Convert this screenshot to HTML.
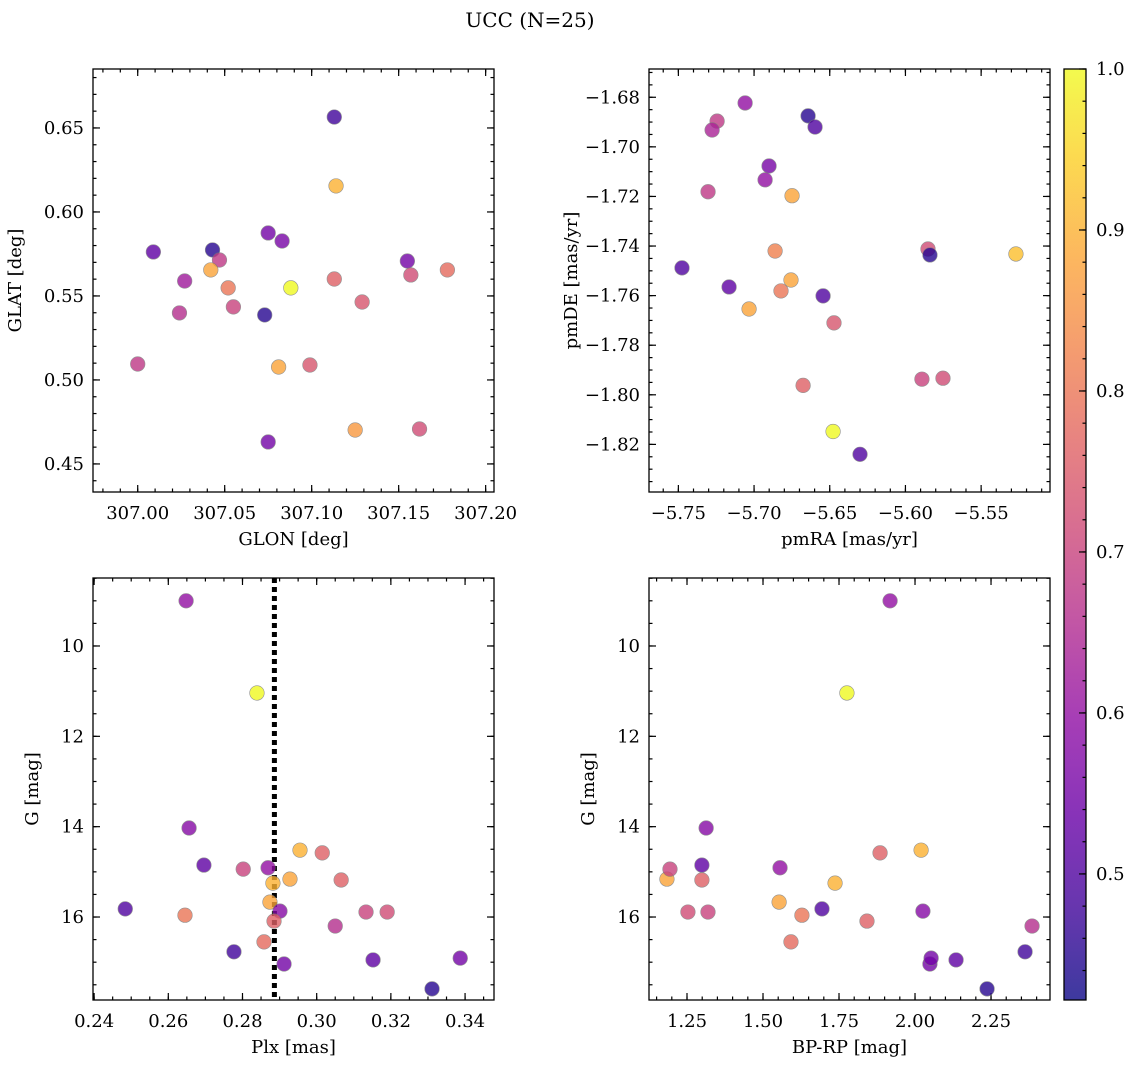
<!DOCTYPE html>
<html><head><meta charset="utf-8"><style>
body{margin:0;background:#fff}
svg text{font-family:"DejaVu Serif","Liberation Serif",serif;fill:#000}
</style></head><body>
<svg id="fig" width="1136" height="1068" xmlns="http://www.w3.org/2000/svg">
<defs><linearGradient id="cbg" x1="0" y1="1" x2="0" y2="0"></linearGradient></defs>
<text x="530" y="27" font-size="20" text-anchor="middle">UCC (N=25)</text>
</svg>
<script>
const probRange=[0.4217,1.0];
// panel 1: GLON, GLAT, prob
const p1x=[307.113,307.114,307.009,307.043,307.075,307.083,307.155,307.027,307.047,307.042,307.052,307.088,307.113,307.178,307.157,307.129,307.055,307.024,307.073,307.000,307.081,307.099,307.075,307.125,307.162];
const p1y=[0.6565,0.6155,0.5762,0.5774,0.5875,0.5827,0.5708,0.5589,0.5714,0.5655,0.5548,0.5548,0.5601,0.5655,0.5625,0.5464,0.5435,0.5399,0.5387,0.5095,0.5077,0.5089,0.4631,0.4702,0.4708];
const p1c=[0.48,0.9,0.52,0.45,0.55,0.56,0.55,0.62,0.68,0.88,0.8,1.0,0.76,0.78,0.72,0.74,0.7,0.66,0.45,0.68,0.88,0.74,0.55,0.86,0.72];
// panel 2: pmRA, pmDE, prob
const p2x=[-5.7059,-5.7244,-5.7277,-5.6643,-5.6597,-5.6901,-5.6927,-5.7304,-5.6749,-5.7476,-5.7165,-5.6861,-5.6756,-5.6822,-5.7033,-5.6544,-5.6472,-5.5851,-5.5838,-5.5270,-5.5891,-5.5752,-5.6676,-5.6478,-5.6300];
const p2y=[-1.6823,-1.6896,-1.6932,-1.6875,-1.6920,-1.7077,-1.7133,-1.7181,-1.7197,-1.7488,-1.7565,-1.7420,-1.7537,-1.7581,-1.7654,-1.7601,-1.7710,-1.7412,-1.7436,-1.7432,-1.7937,-1.7933,-1.7962,-1.8148,-1.8240];
const p2c=[0.6,0.68,0.64,0.45,0.5,0.56,0.6,0.68,0.88,0.5,0.52,0.82,0.88,0.8,0.88,0.5,0.74,0.72,0.45,0.92,0.7,0.72,0.76,1.0,0.5];
// panel 3: Plx, G, prob
const p3x=[0.2648,0.2839,0.2656,0.2696,0.2802,0.2869,0.2955,0.3015,0.2882,0.2928,0.3066,0.2484,0.2645,0.2874,0.2901,0.3133,0.3190,0.2885,0.3050,0.2858,0.2777,0.2912,0.3152,0.3387,0.3311];
const p3y=[9.00,11.04,14.03,14.85,14.94,14.91,14.52,14.58,15.25,15.16,15.18,15.82,15.96,15.67,15.87,15.89,15.89,16.09,16.20,16.55,16.77,17.04,16.95,16.91,17.59];
const p3c=[0.6,1.0,0.58,0.52,0.7,0.6,0.9,0.76,0.9,0.88,0.76,0.5,0.8,0.88,0.58,0.7,0.72,0.76,0.66,0.78,0.48,0.55,0.52,0.55,0.45];
const plxLine=0.2886;
// panel 4: BP-RP, G, prob
const p4x=[1.918,1.776,1.313,1.299,1.556,1.885,2.020,1.184,1.299,1.737,1.694,1.553,1.628,1.253,1.319,2.026,1.842,2.385,1.592,2.362,2.135,2.049,2.053,2.237,1.194];
const p4y=[9.00,11.04,14.03,14.85,14.91,14.58,14.52,15.16,15.18,15.25,15.82,15.67,15.96,15.89,15.89,15.87,16.09,16.20,16.55,16.77,16.95,17.04,16.91,17.59,14.94];
const p4c=[0.6,1.0,0.58,0.52,0.6,0.76,0.9,0.88,0.76,0.9,0.5,0.88,0.8,0.72,0.7,0.58,0.76,0.66,0.78,0.48,0.52,0.55,0.55,0.45,0.7];
const t1x=["307.00","307.05","307.10","307.15","307.20"], t1y=["0.45","0.50","0.55","0.60","0.65"];
const t2x=["−5.75","−5.70","−5.65","−5.60","−5.55"], t2y=["−1.82","−1.80","−1.78","−1.76","−1.74","−1.72","−1.70","−1.68"];
const t3x=["0.24","0.26","0.28","0.30","0.32","0.34"], tGy=["10","12","14","16"];
const t4x=["1.25","1.50","1.75","2.00","2.25"], tcb=["0.5","0.6","0.7","0.8","0.9","1.0"];

const NS="http://www.w3.org/2000/svg", svg=document.getElementById('fig');
function mk(tag,at,parent){const e=document.createElementNS(NS,tag);for(const k in at)e.setAttribute(k,at[k]);(parent||svg).appendChild(e);return e;}
const P=[[0.00,13,8,135],[0.1,65,4,154],[0.2,106,0,167],[0.3,143,13,164],[0.4,177,42,144],[0.5,204,71,120],[0.6,225,100,98],[0.7,242,132,75],[0.8,252,166,54],[0.9,252,206,37],[1.0,240,249,33]];
function plasma(t){t=Math.max(0,Math.min(1,t));for(let i=1;i<P.length;i++){if(t<=P[i][0]){const a=P[i-1],b=P[i],f=(t-a[0])/(b[0]-a[0]);return `rgb(${Math.round(a[1]+f*(b[1]-a[1]))},${Math.round(a[2]+f*(b[2]-a[2]))},${Math.round(a[3]+f*(b[3]-a[3]))})`;}}return 'rgb(240,249,33)';}
function cmap(v){return plasma((v-probRange[0])/(probRange[1]-probRange[0]));}
const ALPHA=0.8;

function panel(name,box,xr,yr,xinv,yinv,xt,xlab,yt,ylab,xMaj,xMin,yMaj,yMin,xs,ys,cs,xtitle,ytitle){
  const [L,T,R,B]=box;
  const g=mk('g',{});
  
  
  const X=v=>L+(v-xr[0])/(xr[1]-xr[0])*(R-L);
  const Y=yinv?(v=>T+(v-yr[0])/(yr[1]-yr[0])*(B-T)):(v=>B-(v-yr[0])/(yr[1]-yr[0])*(B-T));
  function ticks(vals,len,isX,labels){
    vals.forEach((v,i)=>{
      if(isX){const x=X(v);if(x<L-0.5||x>R+0.5)return;
        mk('line',{x1:x,x2:x,y1:B,y2:B-len,stroke:'#000','stroke-width':1.2},g);
        mk('line',{x1:x,x2:x,y1:T,y2:T+len,stroke:'#000','stroke-width':1.2},g);
        if(labels){const t=mk('text',{x:x,y:B+27,'font-size':18,'text-anchor':'middle'},g);t.textContent=labels[i];
          
          }
      }else{const y=Y(v);if(y<T-0.5||y>B+0.5)return;
        mk('line',{x1:L,x2:L+len,y1:y,y2:y,stroke:'#000','stroke-width':1.2},g);
        mk('line',{x1:R,x2:R-len,y1:y,y2:y,stroke:'#000','stroke-width':1.2},g);
        if(labels){const t=mk('text',{x:L-9,y:y+6,'font-size':18,'text-anchor':'end'},g);t.textContent=labels[i];
          
          }
      }
    });
  }
  const minorX=[],minorY=[];
  for(let v=Math.ceil(xr[0]/xMin-1e-6)*xMin;v<=xr[1];v+=xMin)minorX.push(v);
  for(let v=Math.ceil(Math.min(yr[0],yr[1])/yMin-1e-6)*yMin;v<=Math.max(yr[0],yr[1]);v+=yMin)minorY.push(v);
  ticks(minorX,3.5,true,null);ticks(minorY,3.5,false,null);
  ticks(xt,7,true,xlab);ticks(yt,7,false,ylab);
  if(name==='plx-g-panel'){
    const ln=mk('line',{x1:X(plxLine),x2:X(plxLine),y1:T,y2:B,stroke:'#000','stroke-width':5,'stroke-dasharray':'5,4'},g);
    
    
  }
  xs.forEach((v,i)=>{
    const c=mk('circle',{cx:X(v),cy:Y(ys[i]),r:7.3,fill:cmap(cs[i]),stroke:'#777','stroke-width':0.6,'opacity':ALPHA},g);
    
    
  });
  const f=mk('rect',{x:L,y:T,width:R-L,height:B-T,fill:'none',stroke:'#000','stroke-width':1.3},g);
  
  
  const xt2=mk('text',{x:(L+R)/2,y:B+53,'font-size':18,'text-anchor':'middle'},g);xt2.textContent=xtitle;
  
  
  const cx=L-(name.indexOf('g-panel')>=0?55:72);
  const yt2=mk('text',{x:cx,y:(T+B)/2,'font-size':18,'text-anchor':'middle',transform:`rotate(-90 ${cx} ${(T+B)/2})`},g);yt2.textContent=ytitle;
  
  
}
const n=a=>a.map(s=>parseFloat(s.replace('−','-')));
panel('glon-glat-panel',[93,69,494,492],[306.9743,307.2048],[0.4333,0.6851],false,false,n(t1x),t1x,n(t1y),t1y,0.05,0.01,0.05,0.01,p1x,p1y,p1c,'GLON [deg]','GLAT [deg]');
panel('pm-panel',[649,69,1050,492],[-5.7694,-5.5045],[-1.8392,-1.6686],false,false,n(t2x),t2x,n(t2y),t2y,0.05,0.01,0.02,0.005,p2x,p2y,p2c,'pmRA [mas/yr]','pmDE [mas/yr]');
panel('plx-g-panel',[93,578,494,1000],[0.2397,0.3478],[8.495,17.837],false,true,n(t3x),t3x,n(tGy),tGy,0.02,0.005,2,0.5,p3x,p3y,p3c,'Plx [mas]','G [mag]');
panel('cmd-g-panel',[649,578,1050,1000],[1.125,2.444],[8.495,17.837],false,true,n(t4x),t4x,n(tGy),tGy,0.25,0.05,2,0.5,p4x,p4y,p4c,'BP-RP [mag]','G [mag]');
// colorbar
const gr=document.getElementById('cbg');
for(let i=0;i<=20;i++){mk('stop',{offset:i/20,'stop-color':plasma(i/20),'stop-opacity':ALPHA},gr);}
const cb=mk('g',{});


const cT=69,cB=1000,cL=1064,cR=1086;
mk('rect',{x:cL,y:cT,width:cR-cL,height:cB-cT,fill:'url(#cbg)',stroke:'#000','stroke-width':1.3},cb);
const CY=v=>cB-(v-probRange[0])/(probRange[1]-probRange[0])*(cB-cT);
for(let v=0.44;v<=1.0001;v+=0.02){mk('line',{x1:cR,x2:cR-3.5,y1:CY(v),y2:CY(v),stroke:'#000','stroke-width':1.2},cb);}
tcb.forEach(s=>{const v=parseFloat(s),y=CY(v);mk('line',{x1:cR,x2:cR-7,y1:y,y2:y,stroke:'#000','stroke-width':1.2},cb);
  const t=mk('text',{x:cR+10,y:y+6,'font-size':18},cb);t.textContent=s;
  
  });
</script>
</body></html>
